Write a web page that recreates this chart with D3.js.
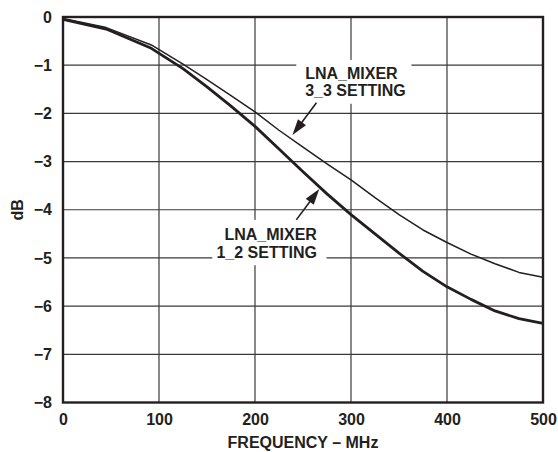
<!DOCTYPE html>
<html>
<head>
<meta charset="utf-8">
<script src="https://cdn.jsdelivr.net/npm/d3@7"></script>
<style>
  html, body { margin: 0; padding: 0; background: #fff; }
  svg { display: block; }
  text { font-family: "Liberation Sans", Arial, Helvetica, sans-serif; font-weight: bold; fill: #231f20; }
</style>
</head>
<body>
<svg id="chart" width="558" height="452"></svg>
<script>
// ---- data ----
const freq = [0, 45, 92, 125, 150, 175, 200, 225, 250, 275, 300, 325, 350, 375, 400, 425, 450, 475, 500];
const setting33 = [-0.03, -0.22, -0.58, -0.98, -1.30, -1.63, -1.97, -2.35, -2.70, -3.05, -3.38, -3.75, -4.10, -4.42, -4.68, -4.92, -5.12, -5.30, -5.40];
const setting12 = [-0.05, -0.25, -0.65, -1.07, -1.45, -1.85, -2.27, -2.74, -3.21, -3.67, -4.10, -4.50, -4.90, -5.28, -5.60, -5.86, -6.10, -6.26, -6.36];
const xTicks = [0, 100, 200, 300, 400, 500];
const yTicks = [0, -1, -2, -3, -4, -5, -6, -7, -8];
const xTitle = "FREQUENCY \u2013 MHz";
const yTitle = "dB";
const label12 = ["LNA_MIXER", "1_2 SETTING"];
const label33 = ["LNA_MIXER", "3_3 SETTING"];

(function () {
// ---- layout ----
const svg = d3.select("#chart");
const mL = 63, mR = 543, mT = 17, mB = 402.5;
const x = d3.scaleLinear().domain([0, 500]).range([mL, mR]);
const y = d3.scaleLinear().domain([0, -8]).range([mT, mB]);
const ink = "#231f20";

// grid
const g = svg.append("g");
g.selectAll(".vg").data(xTicks.slice(1, -1)).join("line")
  .attr("x1", d => x(d)).attr("x2", d => x(d))
  .attr("y1", mT).attr("y2", mB)
  .attr("stroke", "#3a3a3a").attr("stroke-width", 1.2);
g.selectAll(".hg").data(yTicks.slice(1, -1)).join("line")
  .attr("x1", mL).attr("x2", mR)
  .attr("y1", d => y(d)).attr("y2", d => y(d))
  .attr("stroke", "#3a3a3a").attr("stroke-width", 1.2);

// axes via d3 (labels only, tick lines hidden)
const xAxis = svg.append("g").attr("transform", `translate(0,${mB})`)
  .call(d3.axisBottom(x).tickValues(xTicks).tickSize(0).tickPadding(11).tickFormat(d3.format("d")));
const yAxis = svg.append("g").attr("transform", `translate(${mL},0)`)
  .call(d3.axisLeft(y).tickValues(yTicks).tickSize(0).tickPadding(11)
    .tickFormat(d => d === 0 ? "0" : "\u2212" + Math.abs(d)));
[xAxis, yAxis].forEach(a => {
  a.select(".domain").remove();
  a.selectAll("text").attr("font-size", 16).attr("fill", ink)
    .style("font-family", '"Liberation Sans", Arial, sans-serif').style("font-weight", "bold");
});

// white boxes behind annotations (in data units)
const boxes = [
  { x0: 243, x1: 363, y0: -0.89, y1: -1.80 },
  { x0: 155.5, x1: 274.5, y0: -4.21, y1: -5.15 }
];
svg.selectAll(".box").data(boxes).join("rect")
  .attr("x", d => x(d.x0)).attr("width", d => x(d.x1) - x(d.x0))
  .attr("y", d => y(d.y0)).attr("height", d => y(d.y1) - y(d.y0))
  .attr("fill", "#fff");

// frame
svg.append("rect").attr("x", mL).attr("y", mT)
  .attr("width", mR - mL).attr("height", mB - mT)
  .attr("fill", "none").attr("stroke", ink).attr("stroke-width", 2.4);

// curves
const line = d3.line().x(d => x(d[0])).y(d => y(d[1])).curve(d3.curveLinear);
svg.append("path").datum(freq.map((f, i) => [f, setting33[i]]))
  .attr("d", line).attr("fill", "none").attr("stroke", ink).attr("stroke-width", 1.5)
  .attr("stroke-linejoin", "round");
svg.append("path").datum(freq.map((f, i) => [f, setting12[i]]))
  .attr("d", line).attr("fill", "none").attr("stroke", ink).attr("stroke-width", 2.8)
  .attr("stroke-linejoin", "round");

// annotations
function arrow(tail, tip) {
  const x0 = x(tail[0]), y0 = y(tail[1]), x1 = x(tip[0]), y1 = y(tip[1]);
  const dx = x1 - x0, dy = y1 - y0, L = Math.hypot(dx, dy);
  const ux = dx / L, uy = dy / L, hl = 16, hw = 5;
  const bx = x1 - ux * hl, by = y1 - uy * hl;
  svg.append("line").attr("x1", x0).attr("y1", y0).attr("x2", bx + ux * 2).attr("y2", by + uy * 2)
    .attr("stroke", ink).attr("stroke-width", 1.6);
  svg.append("path").attr("d", `M${x1},${y1}L${bx - uy * hw},${by + ux * hw}L${bx + uy * hw},${by - ux * hw}Z`)
    .attr("fill", ink);
}
arrow([243, -4.21], [267, -3.57]);
arrow([264, -1.78], [239, -2.45]);

svg.append("text").attr("x", x(264.5)).attr("text-anchor", "end").attr("font-size", 16)
  .selectAll("tspan").data(label12).join("tspan")
  .attr("x", x(264.5)).attr("y", (d, i) => y([-4.63, -5.0][i])).text(d => d);
svg.append("text").attr("x", x(252.3)).attr("text-anchor", "start").attr("font-size", 16)
  .selectAll("tspan").data(label33).join("tspan")
  .attr("x", x(252.3)).attr("y", (d, i) => y([-1.29, -1.64][i])).text(d => d);

// titles
svg.append("text").attr("x", (mL + mR) / 2).attr("y", 448).attr("text-anchor", "middle")
  .attr("font-size", 16).text(xTitle);
svg.append("text").attr("transform", `translate(22.5,${(mT + mB) / 2}) rotate(-90)`)
  .attr("text-anchor", "middle").attr("font-size", 16).text(yTitle);
})();
</script>
</body>
</html>
